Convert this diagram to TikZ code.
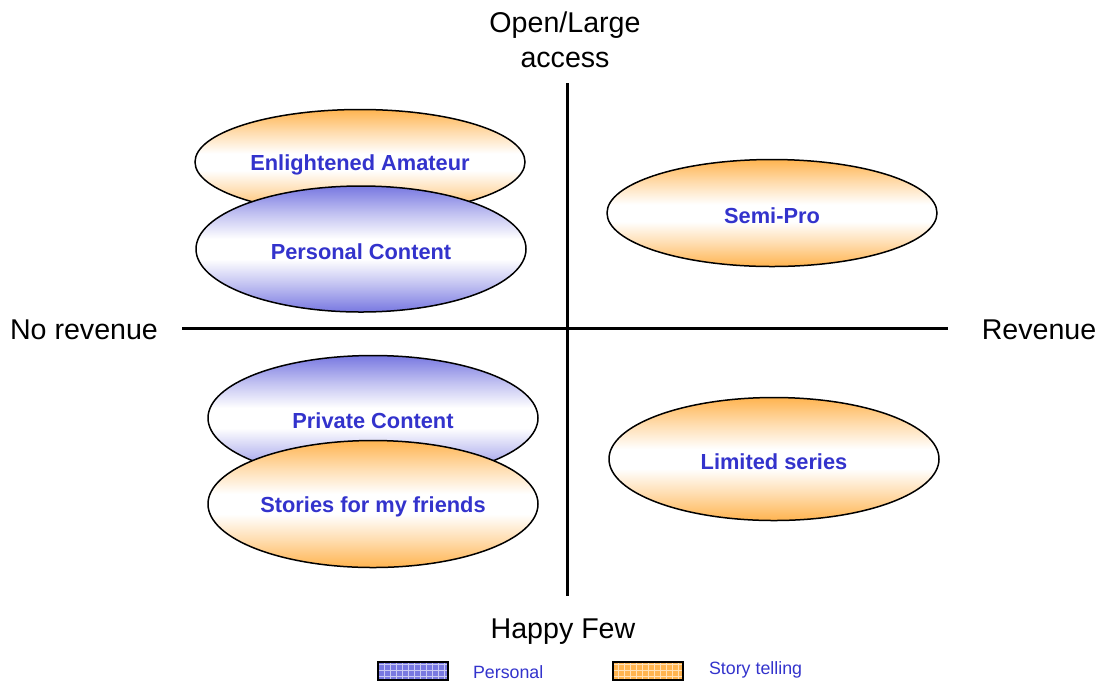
\documentclass[tikz,border=0pt]{standalone}
\usepackage{fontspec}
\setmainfont{Liberation Sans}
\usetikzlibrary{shapes.geometric,patterns}
\definecolor{storyorange}{RGB}{255,180,80}
\definecolor{persblue}{RGB}{120,120,225}
\definecolor{textblue}{RGB}{51,51,204}

\pgfdeclareverticalshading{storyshade}{100bp}{color(0bp)=(storyorange); color(25bp)=(storyorange);
    color(36bp)=(storyorange!45!white); color(46bp)=(white); color(54bp)=(white);
    color(64bp)=(storyorange!45!white); color(75bp)=(storyorange); color(100bp)=(storyorange)}
\pgfdeclareverticalshading{persshade}{100bp}{color(0bp)=(persblue); color(25bp)=(persblue);
    color(36bp)=(persblue!45!white); color(46bp)=(white); color(54bp)=(white);
    color(64bp)=(persblue!45!white); color(75bp)=(persblue); color(100bp)=(persblue)}

\tikzset{
    blob/.style={ellipse, draw, line width=0.75pt, inner sep=0pt, minimum width=165pt},
    story/.style={blob, shading=storyshade},
    personal/.style={blob, shading=persshade},
    blobtext/.style={yshift=-1.5pt, text=textblue, font=\bfseries\fontsize{10.9}{13}\selectfont},
    axis/.style={line width=1.5pt},
    axislabel/.style={font=\fontsize{14.3}{17.5}\selectfont, align=center},
    keybox/.style={draw, line width=0.75pt, minimum width=35pt, minimum height=9pt, inner sep=0pt,
        pattern=grid, pattern color=white!60!#1, preaction={fill=#1}},
    keytext/.style={text=textblue, font=\fontsize{8.9}{10}\selectfont, anchor=west}
}

\begin{document}
\begin{tikzpicture}[x=0.5pt, y=-0.5pt]
    \useasboundingbox (0,0) rectangle (1102,682);
    % axes
    \coordinate (top) at (567,83);
    \coordinate (bottom) at (567,596);
    \coordinate (left) at (182,328);
    \coordinate (right) at (948,328);
    \draw[axis] (top) -- (bottom);
    \draw[axis] (left) -- (right);
    \node[axislabel] (open) at (565,40) {Open/Large\\access};
    \node[axislabel] (few) at (563,632) {Happy Few};
    \node[axislabel] (norev) at (84,330) {No revenue};
    \node[axislabel] (rev) at (1039,330) {Revenue};

    % quadrants
    \node[story, minimum height=52.5pt] (amateur) at (360,162) {};
    \node[blobtext] at (amateur) {Enlightened Amateur};
    \node[personal, minimum height=63pt] (perscont) at (361,249) {};
    \node[blobtext] at (perscont) {Personal Content};
    \node[story, minimum height=53.5pt] (semipro) at (772,213) {};
    \node[blobtext] at (semipro) {Semi-Pro};
    \node[personal, minimum height=62.5pt] (private) at (373,418) {};
    \node[blobtext] at (private) {Private Content};
    \node[story, minimum height=63.5pt] (friends) at (373,504) {};
    \node[blobtext] at (friends) {Stories for my friends};
    \node[story, minimum height=61.5pt] (limited) at (774,459) {};
    \node[blobtext] at (limited) {Limited series};

    % legend
    \node[keybox=persblue] (perskey) at (413,671) {};
    \node[keytext] (perstext) at (466,672) {Personal};
    \node[keybox=storyorange] (storykey) at (648,671) {};
    \node[keytext] (storytext) at (702,670) {Story telling};
\end{tikzpicture}
\end{document}
